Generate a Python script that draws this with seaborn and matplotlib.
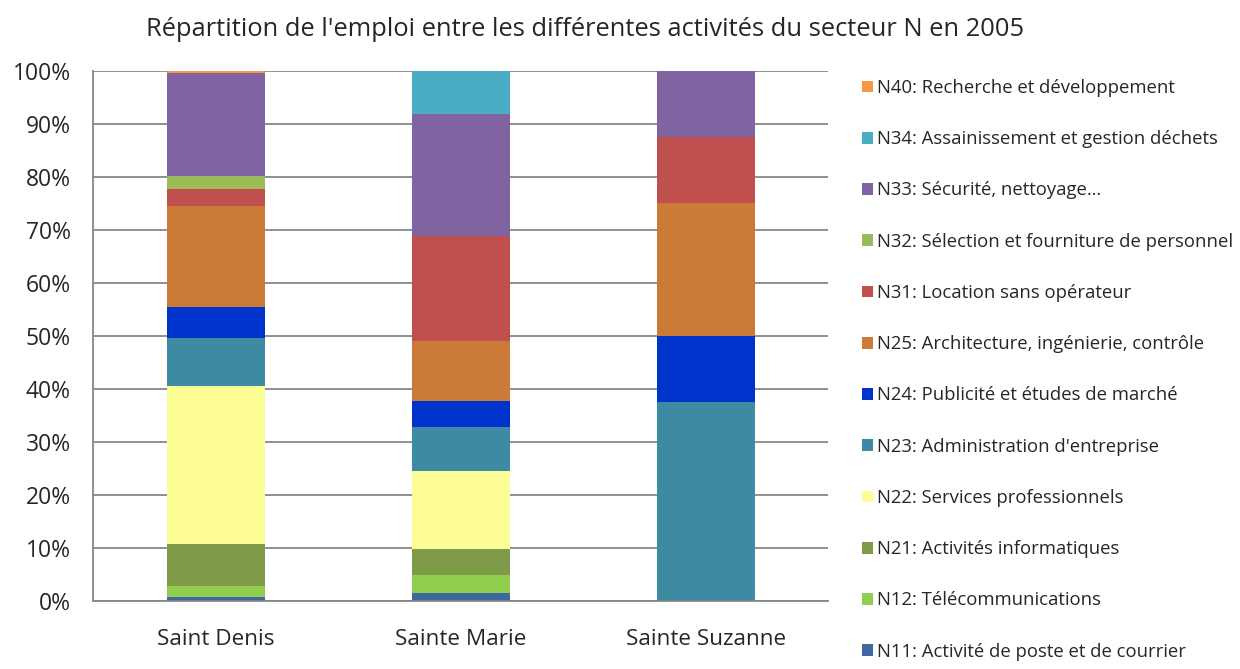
import numpy as np
import pandas as pd
import matplotlib
matplotlib.use("Agg")
import matplotlib.pyplot as plt
import seaborn as sns
from matplotlib.patches import Patch
from matplotlib.ticker import PercentFormatter

communes = ["Saint Denis", "Sainte Marie", "Sainte Suzanne"]

activites = [
    "N11: Activité de poste et de courrier",
    "N12: Télécommunications",
    "N21: Activités informatiques",
    "N22: Services professionnels",
    "N23: Administration d'entreprise",
    "N24: Publicité et études de marché",
    "N25: Architecture, ingénierie, contrôle",
    "N31: Location sans opérateur",
    "N32: Sélection et fourniture de personnel",
    "N33: Sécurité, nettoyage…",
    "N34: Assainissement et gestion déchets",
    "N40: Recherche et développement",
]

# part de l'emploi (%) par activité, pour chaque commune
saint_denis = [0.7, 2.2, 7.9, 29.8, 9.0, 5.9, 19.0, 3.3, 2.4, 19.5, 0.0, 0.3]
sainte_marie = [1.5, 3.35, 4.95, 14.75, 8.25, 5.0, 11.3, 19.7, 0.0, 23.0, 8.2, 0.0]
sainte_suzanne = [0.0, 0.0, 0.0, 0.0, 37.5, 12.5, 25.0, 12.5, 0.0, 12.5, 0.0, 0.0]

couleurs = ["#3F67A0", "#8FCE4F", "#7F9A48", "#FDFD96", "#3C8BA3", "#0033CC",
            "#CC7A38", "#C0504D", "#9BBB59", "#8064A2", "#4BACC6", "#F79646"]

df = pd.DataFrame({"Saint Denis": saint_denis,
                   "Sainte Marie": sainte_marie,
                   "Sainte Suzanne": sainte_suzanne}, index=activites)

sns.set_style("white")
plt.rcParams["font.family"] = ["Open Sans", "DejaVu Sans"]

fig = plt.figure(figsize=(12.4, 6.69), dpi=100)
ax = fig.add_axes([0.075, 0.1016, 0.593, 0.7924])

bas = np.zeros(len(communes))
for act, col in zip(activites, couleurs):
    vals = df.loc[act, communes].values
    sns.barplot(x=communes, y=vals, bottom=bas, color=col, width=0.4,
                saturation=1, ax=ax, linewidth=0)
    bas = bas + vals

ax.set_ylim(0, 100)
ax.set_xlim(-0.5, 2.5)
ax.set_yticks(np.arange(0, 101, 10))
ax.yaxis.set_major_formatter(PercentFormatter(decimals=0))
ax.yaxis.grid(True, color="#878787", linewidth=1.3)
ax.set_axisbelow(True)
for s in ["top", "right"]:
    ax.spines[s].set_visible(False)
for s in ["left", "bottom"]:
    ax.spines[s].set_color("#878787")
    ax.spines[s].set_linewidth(1.3)

ax.tick_params(axis="y", length=6, color="#878787", width=1.3, labelsize=16.5, pad=10)
ax.tick_params(axis="x", which="major", length=0, labelsize=16.2, pad=20)
ax.set_xticks([-0.5, 0.5, 1.5, 2.5], minor=True)
ax.tick_params(axis="x", which="minor", length=7, color="#878787", width=1.3)
ax.set_xlabel("")
ax.set_ylabel("")

fig.text(585 / 1240, 1 - 30 / 669,
         "Répartition de l'emploi entre les différentes activités du secteur N en 2005",
         ha="center", va="center", fontsize=18.4)

poignees = [Patch(facecolor=c, edgecolor="none", label=a)
            for a, c in zip(activites, couleurs)][::-1]
fig.legend(handles=poignees, loc="upper left", bbox_to_anchor=(0.689, 0.893),
           frameon=False, fontsize=13.3, handlelength=0.6, handleheight=0.6,
           handletextpad=0.25, labelspacing=1.8, borderaxespad=0)

fig.savefig("out.png", dpi=100)
